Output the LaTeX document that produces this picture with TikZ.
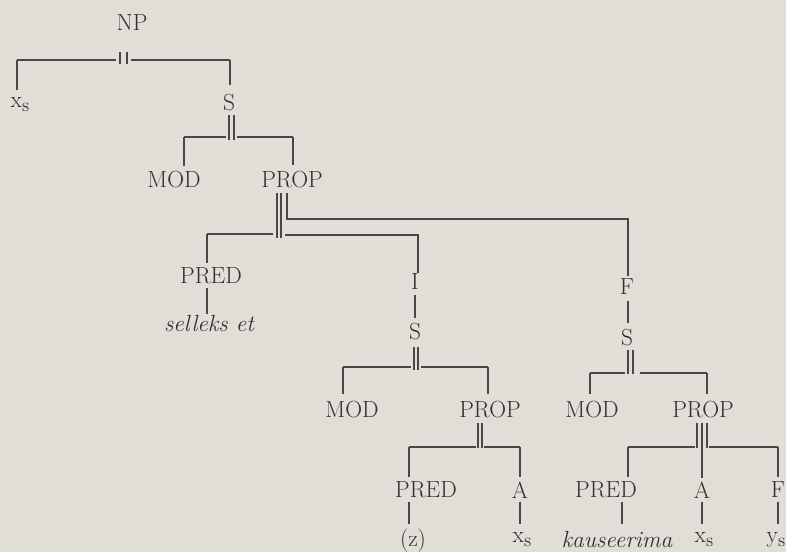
\documentclass[tikz,border=0pt]{standalone}
\usepackage{fontspec}
\definecolor{paper}{RGB}{224,222,215}
\definecolor{ink}{RGB}{72,70,68}
\definecolor{tink}{RGB}{50,48,46}
\newcommand{\xsub}[1]{#1\raisebox{-0.4ex}{\fontsize{14}{14}\selectfont s}}
\begin{document}
\begin{tikzpicture}[x=0.75pt,y=-0.75pt,
  lbl/.style={font=\fontsize{17.5}{19}\selectfont, text=tink, inner sep=0pt},
  wrd/.style={font=\fontsize{17.5}{19}\selectfont\itshape, text=tink, inner sep=0pt},
  ln/.style={draw=ink, line width=0.95pt}]
\fill[paper] (0,0) rectangle (786,552);
\useasboundingbox (0,0) rectangle (786,552);
% nodes
\node[lbl] (NP) at (132,23) {NP};
\node[lbl] (xs1) at (20,105) {\xsub{x}};
\node[lbl] (S1) at (229,103) {S};
\node[lbl] (MOD1) at (174,180) {MOD};
\node[lbl] (PROP1) at (292,180) {PROP};
\node[lbl] (PRED1) at (211,276) {PRED};
\node[wrd] (sel) at (209,324) {selleks et};
\node[lbl] (I) at (415,282) {I};
\node[lbl] (S2) at (415,332) {S};
\node[lbl] (F1) at (627,287) {F};
\node[lbl] (S3) at (627,338) {S};
\node[lbl] (MOD2) at (352,410) {MOD};
\node[lbl] (PROP2) at (490,410) {PROP};
\node[lbl] (MOD3) at (592,410) {MOD};
\node[lbl] (PROP3) at (703,410) {PROP};
\node[lbl] (PRED2) at (426,490) {PRED};
\node[lbl] (A2) at (520,490) {A};
\node[lbl] (PRED3) at (606,490) {PRED};
\node[lbl] (A3) at (702,490) {A};
\node[lbl] (F2) at (778,490) {F};
\node[lbl] (z) at (413,541) {(z)};
\node[lbl] (xs2) at (522,540) {\xsub{x}};
\node[wrd] (kau) at (617,540) {kauseerima};
\node[lbl] (xs3) at (704,540) {\xsub{x}};
\node[lbl] (ys) at (776,540) {\xsub{y}};
% NP
\draw[ln] (120,52) -- (120,64) (127,52) -- (127,64);
\draw[ln] (17,60) -- (116,60) (131,60) -- (230,60);
\draw[ln] (17,60) -- (17,90);
\draw[ln] (230,60) -- (230,85);
% S1
\draw[ln] (229,115) -- (229,140) (234,115) -- (234,140);
\draw[ln] (184,137) -- (226,137) (237,137) -- (293,137);
\draw[ln] (184,137) -- (184,166);
\draw[ln] (293,137) -- (293,165);
% PROP1
\draw[ln] (277,193) -- (277,238) (281,193) -- (281,238);
\draw[ln] (287,193) -- (287,219) -- (628,219) -- (628,276);
\draw[ln] (207,234) -- (273,234);
\draw[ln] (285,235) -- (418,235) -- (418,273);
\draw[ln] (207,234) -- (207,263);
\draw[ln] (207,288) -- (207,314);
% I - S2
\draw[ln] (415,295) -- (415,318);
\draw[ln] (414,347) -- (414,370) (418,347) -- (418,370);
\draw[ln] (343,367) -- (411,367) (421,367) -- (488,367);
\draw[ln] (343,367) -- (343,394);
\draw[ln] (488,367) -- (488,394);
% PROP2
\draw[ln] (478,423) -- (478,448) (482,423) -- (482,448);
\draw[ln] (409,447) -- (476,447) (484,447) -- (520,447);
\draw[ln] (409,447) -- (409,477);
\draw[ln] (520,447) -- (520,477);
\draw[ln] (409,502) -- (409,524);
\draw[ln] (520,502) -- (520,524);
% F1 - S3
\draw[ln] (628,301) -- (628,323);
\draw[ln] (628,350) -- (628,374) (633,350) -- (633,374);
\draw[ln] (590,373) -- (625,373) (640,373) -- (707,373);
\draw[ln] (590,373) -- (590,394);
\draw[ln] (707,373) -- (707,394);
% PROP3
\draw[ln] (697,423) -- (697,448) (702,423) -- (702,478) (707,423) -- (707,448);
\draw[ln] (628,447) -- (695,447) (709,447) -- (778,447);
\draw[ln] (628,447) -- (628,477);
\draw[ln] (778,447) -- (778,477);
\draw[ln] (622,502) -- (622,524);
\draw[ln] (702,502) -- (702,524);
\draw[ln] (778,502) -- (778,524);
\end{tikzpicture}
\end{document}
